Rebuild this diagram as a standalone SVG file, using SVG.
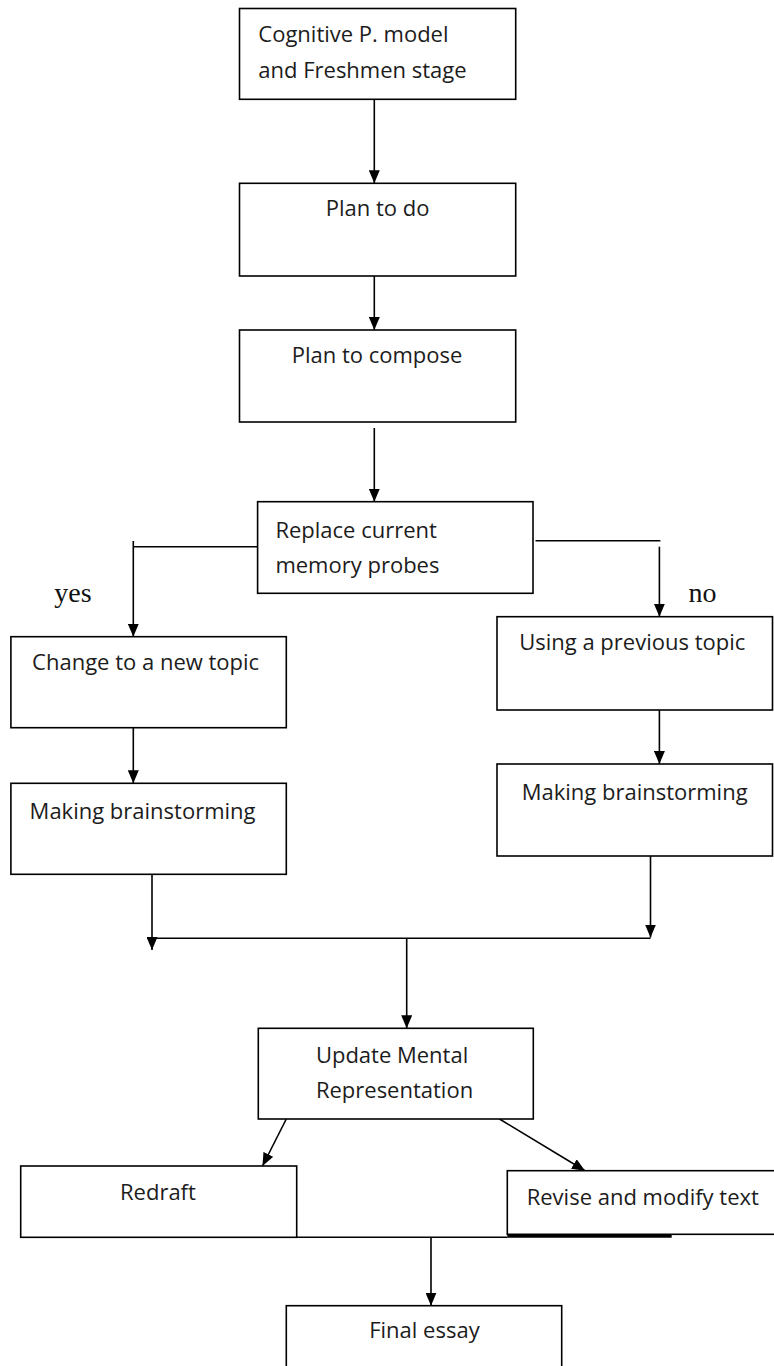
<svg xmlns="http://www.w3.org/2000/svg" width="774" height="1366" viewBox="0 0 774 1366">
<style>
.box{fill:#fff;stroke:#000;stroke-width:1.6}
.t{font-family:"Open Sans","Liberation Sans",sans-serif;font-size:22px;fill:#1c1c1c}
.s{font-family:"Liberation Serif","Times New Roman",serif;font-size:28px;fill:#111}
.c{fill:none;stroke:#000;stroke-width:1.6}
</style>
<defs>
<marker id="ah" viewBox="0 0 13 11" refX="13" refY="5.5" markerWidth="13" markerHeight="11" markerUnits="userSpaceOnUse" orient="auto">
<path d="M0,0 L13,5.5 L0,11 z" fill="#000"/>
</marker>
</defs>
<rect width="774" height="1366" fill="#fff"/>
<g id="connectors">
<path class="c" d="M374.3,99.3 V183.3" marker-end="url(#ah)"/>
<path class="c" d="M374.3,276 V330" marker-end="url(#ah)"/>
<path class="c" d="M374.3,428 V501.7" marker-end="url(#ah)"/>
<path class="c" d="M257.6,546.7 H133.3"/>
<path class="c" d="M133.3,541 V636.7" marker-end="url(#ah)"/>
<path class="c" d="M535.5,540.7 H660.4"/>
<path class="c" d="M659.4,546.7 V616.7" marker-end="url(#ah)"/>
<path class="c" d="M133.3,727.7 V783.3" marker-end="url(#ah)"/>
<path class="c" d="M659.4,710 V764" marker-end="url(#ah)"/>
<path class="c" d="M152,874.3 V950" marker-end="url(#ah)"/>
<path class="c" d="M650.5,856 V937.5" marker-end="url(#ah)"/>
<path class="c" d="M152,938.3 H650.5"/>
<path class="c" d="M406.7,938.3 V1028.3" marker-end="url(#ah)"/>
<path class="c" d="M286.3,1119 L262.5,1166" marker-end="url(#ah)"/>
<path class="c" d="M499.5,1119 L585,1170.7" marker-end="url(#ah)"/>
<path class="c" d="M296.7,1237.3 H507.3"/>
<path d="M507.3,1236.3 H671.7" fill="none" stroke="#000" stroke-width="3"/>
<path class="c" d="M431,1237.3 V1305.7" marker-end="url(#ah)"/>
</g>
<g id="n1"><rect class="box" x="239.5" y="8.5" width="276.2" height="90.8"/><text class="t" x="258.3" y="42.3">Cognitive P. model</text><text class="t" x="258.3" y="78.3">and Freshmen stage</text></g>
<g id="n2"><rect class="box" x="239.5" y="183.3" width="276.2" height="92.7"/><text class="t" x="325.7" y="216">Plan to do</text></g>
<g id="n3"><rect class="box" x="239.5" y="330" width="276.2" height="92"/><text class="t" x="291.7" y="363.3">Plan to compose</text></g>
<g id="n4"><rect class="box" x="257.6" y="501.7" width="275.4" height="91.6"/><text class="t" x="275.4" y="538.3">Replace current</text><text class="t" x="275.4" y="573.3">memory probes</text></g>
<g id="lbl-yes"><text class="s" x="54.3" y="601.7">yes</text></g>
<g id="lbl-no"><text class="s" x="688.5" y="601.7">no</text></g>
<g id="n5"><rect class="box" x="10.9" y="636.7" width="275.4" height="91"/><text class="t" x="32.1" y="670">Change to a new topic</text></g>
<g id="n6"><rect class="box" x="497" y="616.7" width="275.5" height="93.3"/><text class="t" x="519.2" y="650">Using a previous topic</text></g>
<g id="n7"><rect class="box" x="10.9" y="783.3" width="275.4" height="91"/><text class="t" x="29.6" y="819.3">Making brainstorming</text></g>
<g id="n8"><rect class="box" x="497" y="764" width="275.5" height="92"/><text class="t" x="521.7" y="800">Making brainstorming</text></g>
<g id="n9"><rect class="box" x="258.3" y="1028.3" width="275" height="90.7"/><text class="t" x="315.9" y="1062.7">Update Mental</text><text class="t" x="315.9" y="1098.3">Representation</text></g>
<g id="n10"><rect class="box" x="20.7" y="1166" width="276" height="71.3"/><text class="t" x="120" y="1200">Redraft</text></g>
<g id="n11"><rect class="box" x="507.3" y="1170.7" width="280" height="63.6"/><text class="t" x="526.7" y="1205">Revise and modify text</text></g>
<g id="n12"><rect class="box" x="286.3" y="1305.7" width="275.4" height="80"/><text class="t" x="369.2" y="1338.3">Final essay</text></g>
</svg>
